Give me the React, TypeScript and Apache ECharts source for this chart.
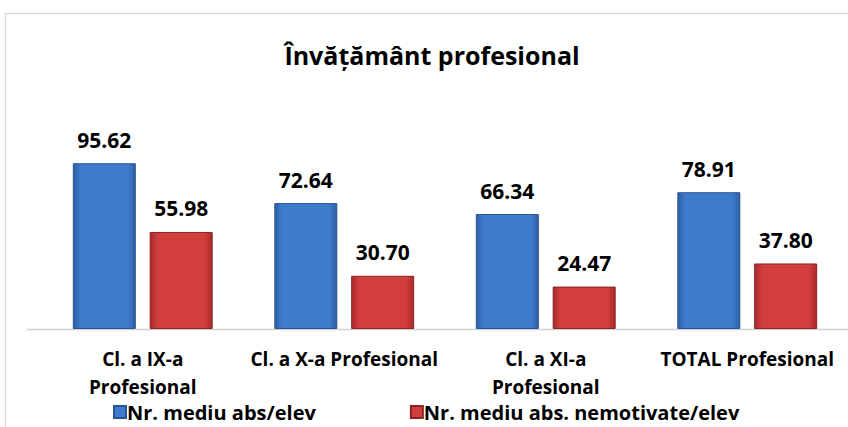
import React, { useEffect, useRef } from "react";
import * as echarts from "echarts";

const titleText = "Învățământ profesional";
const categories = [
  "Cl. a IX-a\nProfesional",
  "Cl. a X-a Profesional",
  "Cl. a XI-a\nProfesional",
  "TOTAL Profesional",
];
const seriesNames = ["Nr. mediu abs/elev", "Nr. mediu abs. nemotivate/elev"];
const absMedii = [95.62, 72.64, 66.34, 78.91];
const absNemotivate = [55.98, 30.7, 24.47, 37.8];

const FONT = "'Open Sans', Lato, sans-serif";

export default function App() {
  const ref = useRef<HTMLDivElement>(null);
  useEffect(() => {
    if (!ref.current) return;
    const chart = echarts.init(ref.current, null, { renderer: "svg" });
    const blue = new echarts.graphic.LinearGradient(0, 0, 1, 0, [
      { offset: 0, color: "#2c5fa6" },
      { offset: 0.12, color: "#3f7bcc" },
      { offset: 0.88, color: "#3f7bcc" },
      { offset: 1, color: "#2c5fa6" },
    ]);
    const red = new echarts.graphic.LinearGradient(0, 0, 1, 0, [
      { offset: 0, color: "#a82a2a" },
      { offset: 0.12, color: "#d23d3d" },
      { offset: 0.88, color: "#d23d3d" },
      { offset: 1, color: "#a82a2a" },
    ]);
    const labelStyle = {
      show: true,
      position: "top" as const,
      distance: 13,
      fontFamily: FONT,
      fontWeight: "bold" as const,
      fontSize: 21,
      color: "#000",
      formatter: (p: any) => Number(p.value).toFixed(2),
    };
    chart.setOption({
      animation: false,
      backgroundColor: "#fff",
      title: {
        text: titleText,
        left: 427,
        textAlign: "center",
        top: 37,
        textStyle: { fontFamily: FONT, fontWeight: "bold", fontSize: 25, color: "#000" },
      },
      legend: {
        left: 108,
        top: 397,
        itemWidth: 12,
        itemHeight: 12,
        itemGap: 94,
        icon: "rect",
        textStyle: {
          fontFamily: FONT,
          fontWeight: "bold",
          fontSize: 20,
          lineHeight: 20,
          color: "#000",
          padding: [0, 0, 0, -4],
        },
        data: [
          { name: seriesNames[0], itemStyle: { color: "#3f7bcc" } },
          { name: seriesNames[1], itemStyle: { color: "#d23d3d" } },
        ],
      },
      graphic: [
        {
          type: "rect",
          shape: { x: 5.5, y: 13.5, width: 900, height: 500 },
          style: { fill: "none", stroke: "#d9d9d9", lineWidth: 1.5 },
          silent: true,
        },
        {
          type: "line",
          shape: { x1: 27, y1: 329.5, x2: 848, y2: 329.5 },
          style: { stroke: "#d0d0d0", lineWidth: 1.5 },
          silent: true,
        },
      ],
      grid: { left: 42, top: 121, width: 808, height: 208 },
      xAxis: {
        type: "category",
        data: categories,
        axisLine: { show: false },
        axisTick: { show: false },
        axisLabel: {
          interval: 0,
          margin: 16,
          lineHeight: 28,
          fontFamily: FONT,
          fontWeight: "bold",
          fontSize: 19,
          color: "#000",
        },
      },
      yAxis: {
        type: "value",
        min: 0,
        max: 120,
        show: false,
        splitLine: { show: false },
      },
      series: [
        {
          name: seriesNames[0],
          type: "bar",
          data: absMedii,
          barWidth: 63,
          barGap: "22%",
          itemStyle: { color: blue, borderColor: "#2a5592", borderWidth: 1 },
          label: labelStyle,
        },
        {
          name: seriesNames[1],
          type: "bar",
          data: absNemotivate,
          barWidth: 63,
          itemStyle: { color: red, borderColor: "#8c2424", borderWidth: 1 },
          label: labelStyle,
        },
      ],
    });
    return () => chart.dispose();
  }, []);
  return (
    <div
      ref={ref}
      style={{ position: "absolute", left: 0, top: 0, width: 848, height: 427 }}
    />
  );
}
